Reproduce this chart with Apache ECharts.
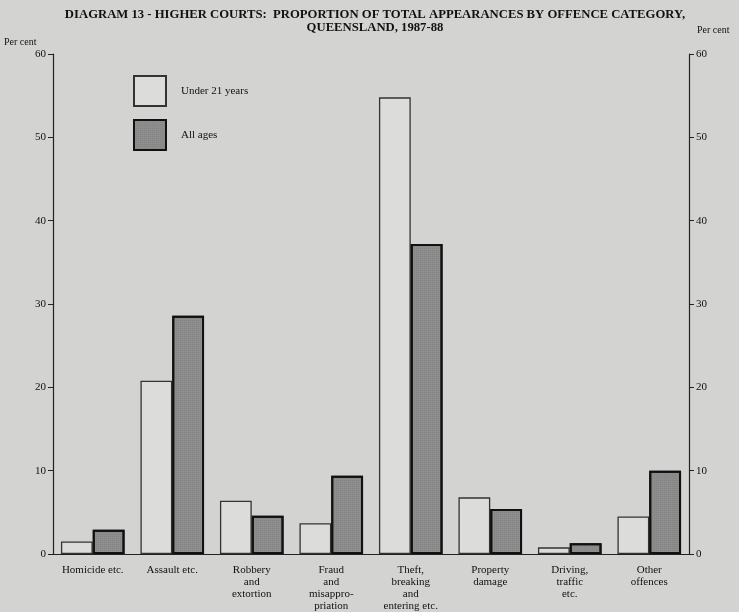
<!DOCTYPE html>
<html>
<head>
<meta charset="utf-8">
<script src="https://cdn.jsdelivr.net/npm/echarts@6/dist/echarts.min.js"></script>
<style>
html,body{margin:0;padding:0;background:#d3d3d1;}
#c{width:739px;height:612px;}
</style>
</head>
<body>
<div id="c"></div>
<script>
const categories = [
  'Homicide etc.',
  'Assault etc.',
  'Robbery\nand\nextortion',
  'Fraud\nand\nmisappro-\npriation',
  'Theft,\nbreaking\nand\nentering etc.',
  'Property\ndamage',
  'Driving,\ntraffic\netc.',
  'Other\noffences'
];
const under21 = [1.5, 20.8, 6.4, 3.7, 54.8, 6.8, 0.8, 4.5];
const allAges = [2.9, 28.6, 4.6, 9.4, 37.2, 5.4, 1.3, 10.0];
const seriesNames = ['Under 21 years', 'All ages'];
const titleLines = ['DIAGRAM 13 - HIGHER COURTS:  PROPORTION OF TOTAL APPEARANCES BY OFFENCE CATEGORY,', 'QUEENSLAND, 1987-88'];
const axisName = 'Per cent';

const serif = '"Liberation Serif", "DejaVu Serif", serif';
const chart = echarts.init(document.getElementById('c'), null, {renderer: 'canvas'});
const axisCommon = {
  type: 'value', min: 0, max: 60, interval: 10,
  axisLine: {show: true, lineStyle: {color: '#222', width: 1.2}},
  axisTick: {show: true, length: 5, lineStyle: {color: '#222'}},
  splitLine: {show: false},
  axisLabel: {color: '#111', fontFamily: serif, fontSize: 11, margin: 7}
};
chart.setOption({
  backgroundColor: '#d3d3d1',
  animation: false,
  title: {
    text: titleLines.join('\n'),
    left: 370, top: 3, textAlign: 'center',
    textStyle: {fontFamily: serif, fontWeight: 'bold', fontSize: 12.7, lineHeight: 13, color: '#111'}
  },
  graphic: [
    {type: 'text', left: 4, top: 37, style: {text: axisName, font: '10px ' + serif, fill: '#111'}},
    {type: 'text', left: 697, top: 25, style: {text: axisName, font: '10px ' + serif, fill: '#111'}}
  ],
  legend: {
    orient: 'vertical', left: 128, top: 70,
    icon: 'rect',
    itemWidth: 32, itemHeight: 30, itemGap: 12,
    textStyle: {fontFamily: serif, fontSize: 11, color: '#111', padding: [0, 0, 0, 10]},
    data: seriesNames
  },
  grid: {left: 53, right: 50, top: 54, bottom: 58},
  xAxis: {
    type: 'category', data: categories,
    axisLine: {show: true, lineStyle: {color: '#222', width: 1.2}},
    axisTick: {show: false},
    axisLabel: {interval: 0, color: '#111', fontFamily: serif, fontSize: 11, lineHeight: 12, margin: 10}
  },
  yAxis: [
    Object.assign({}, axisCommon, {position: 'left'}),
    Object.assign({}, axisCommon, {position: 'right'})
  ],
  series: [
    {
      name: seriesNames[0], type: 'bar', data: under21, barWidth: '40%', barGap: '0%',
      itemStyle: {color: '#dcdcda', borderColor: '#333', borderWidth: 1.3}
    },
    {
      name: seriesNames[1], type: 'bar', data: allAges, barWidth: '40%', barGap: '0%',
      itemStyle: {
        color: '#8d8d8d', borderColor: '#111', borderWidth: 2,
        decal: {symbol: 'rect', symbolSize: 0.6, dashArrayX: [1, 1], dashArrayY: [1, 1], color: 'rgba(40,40,40,0.3)', rotation: 0}
      }
    }
  ]
});
</script>
</body>
</html>
